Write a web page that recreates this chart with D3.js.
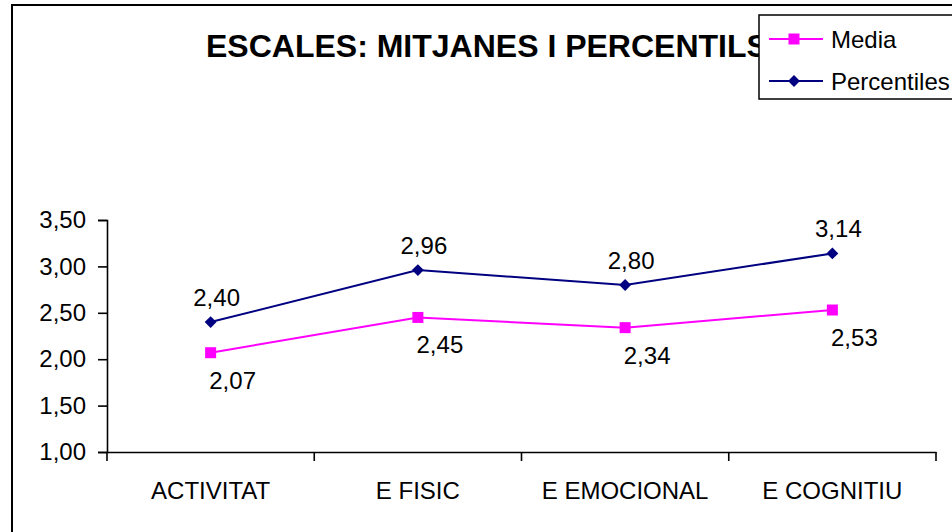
<!DOCTYPE html>
<html>
<head>
<meta charset="utf-8">
<script src="https://cdn.jsdelivr.net/npm/d3@7/dist/d3.min.js"></script>
<style>
  html, body { margin: 0; padding: 0; background: #fff; }
  svg { display: block; font-family: Arial, "Liberation Sans", sans-serif; }
</style>
</head>
<body>
<svg id="chart" width="952" height="532"></svg>
<script>
const categories = ["ACTIVITAT", "E FISIC", "E EMOCIONAL", "E COGNITIU"];
const mediaValues = [2.07, 2.45, 2.34, 2.53];
const percentileValues = [2.40, 2.96, 2.80, 3.14];
const yTickValues = [1.00, 1.50, 2.00, 2.50, 3.00, 3.50];
const seriesNames = ["Media", "Percentiles"];
const titleText = "ESCALES: MITJANES I PERCENTILS";

const svg = d3.select("#chart");
const fmt = v => d3.format(".2f")(v).replace(".", ",");

// outer chart border (extends past the window edge)
svg.append("rect").attr("x", 12).attr("y", 5).attr("width", 980).attr("height", 560)
  .attr("fill", "#fff").attr("stroke", "#000").attr("stroke-width", 2);

const pLeft = 107, pRight = 936, pTop = 220, pBottom = 452;
const x = d3.scaleBand().domain(categories).range([pLeft, pRight]);
const y = d3.scaleLinear().domain([1, 3.5]).range([pBottom, pTop]);

// y axis
const yAxis = d3.axisLeft(y).tickValues(yTickValues).tickFormat(fmt).tickSize(9).tickPadding(12);
const gy = svg.append("g").attr("transform", `translate(${pLeft},0)`).call(yAxis);
gy.select(".domain").attr("stroke", "#000").attr("stroke-width", 1.6);
gy.selectAll(".tick line").attr("stroke", "#000").attr("stroke-width", 1.6);
gy.selectAll(".tick text").attr("font-size", 24).attr("fill", "#000")
  .attr("font-family", "Arial, 'Liberation Sans', sans-serif");

// x axis: boundary ticks between categories
const xAxis = d3.axisBottom(x).tickSize(0).tickPadding(0).tickFormat("");
const gx = svg.append("g").attr("transform", `translate(0,${pBottom})`).call(xAxis);
gx.select(".domain").attr("stroke", "#000").attr("stroke-width", 1.6);
gx.selectAll(".tick").remove();
const bounds = categories.map(c => x(c)).concat([x.range()[1]]);
gx.selectAll("line.bt").data(bounds).enter().append("line")
  .attr("x1", d => d).attr("x2", d => d).attr("y1", 0).attr("y2", 9)
  .attr("stroke", "#000").attr("stroke-width", 1.6);
gx.selectAll("text.cat").data(categories).enter().append("text")
  .attr("x", d => x(d) + x.bandwidth() / 2).attr("y", 47)
  .attr("text-anchor", "middle").attr("font-size", 24).attr("fill", "#000")
  .attr("font-family", "Arial, 'Liberation Sans', sans-serif")
  .text(d => d);

const cx = c => x(c) + x.bandwidth() / 2;
const line = d3.line().x((d, i) => cx(categories[i])).y(d => y(d));

const mediaColor = "#FF00FF", percColor = "#000080";

// Percentiles series
svg.append("path").datum(percentileValues).attr("d", line)
  .attr("fill", "none").attr("stroke", percColor).attr("stroke-width", 2);
svg.selectAll("path.dia").data(percentileValues).enter().append("path")
  .attr("class", "dia")
  .attr("d", d3.symbol().type(d3.symbolDiamond2).size(90))
  .attr("transform", (d, i) => `translate(${cx(categories[i])},${y(d)})`)
  .attr("fill", percColor);

// Media series
svg.append("path").datum(mediaValues).attr("d", line)
  .attr("fill", "none").attr("stroke", mediaColor).attr("stroke-width", 2);
svg.selectAll("rect.sq").data(mediaValues).enter().append("rect")
  .attr("class", "sq")
  .attr("x", (d, i) => cx(categories[i]) - 5.5).attr("y", d => y(d) - 5.5)
  .attr("width", 11).attr("height", 11).attr("fill", mediaColor);

// data labels
svg.selectAll("text.pl").data(percentileValues).enter().append("text")
  .attr("class", "pl")
  .attr("x", (d, i) => cx(categories[i]) + 6).attr("y", d => y(d) - 16)
  .attr("text-anchor", "middle").attr("font-size", 24).attr("fill", "#000")
  .text(fmt);
svg.selectAll("text.ml").data(mediaValues).enter().append("text")
  .attr("class", "ml")
  .attr("x", (d, i) => cx(categories[i]) + 22).attr("y", d => y(d) + 36)
  .attr("text-anchor", "middle").attr("font-size", 24).attr("fill", "#000")
  .text(fmt);

// title
svg.append("text").attr("x", 206).attr("y", 57).attr("font-size", 32)
  .attr("font-weight", "bold").attr("fill", "#000").text(titleText);

// legend
const lg = svg.append("g");
lg.append("rect").attr("x", 759).attr("y", 15).attr("width", 220).attr("height", 84)
  .attr("fill", "#fff").attr("stroke", "#000").attr("stroke-width", 1.5);
const legendRows = [
  { name: seriesNames[0], color: mediaColor, yy: 39, shape: "sq" },
  { name: seriesNames[1], color: percColor, yy: 81, shape: "dia" }
];
legendRows.forEach(r => {
  lg.append("line").attr("x1", 769).attr("x2", 823).attr("y1", r.yy).attr("y2", r.yy)
    .attr("stroke", r.color).attr("stroke-width", 2);
  if (r.shape === "sq") {
    lg.append("rect").attr("x", 794 - 5.5).attr("y", r.yy - 5.5).attr("width", 11).attr("height", 11)
      .attr("fill", r.color);
  } else {
    lg.append("path").attr("d", d3.symbol().type(d3.symbolDiamond2).size(90))
      .attr("transform", `translate(794,${r.yy})`).attr("fill", r.color);
  }
  lg.append("text").attr("x", 831).attr("y", r.yy + 8.5).attr("font-size", 24)
    .attr("fill", "#000").text(r.name);
});
</script>
</body>
</html>
